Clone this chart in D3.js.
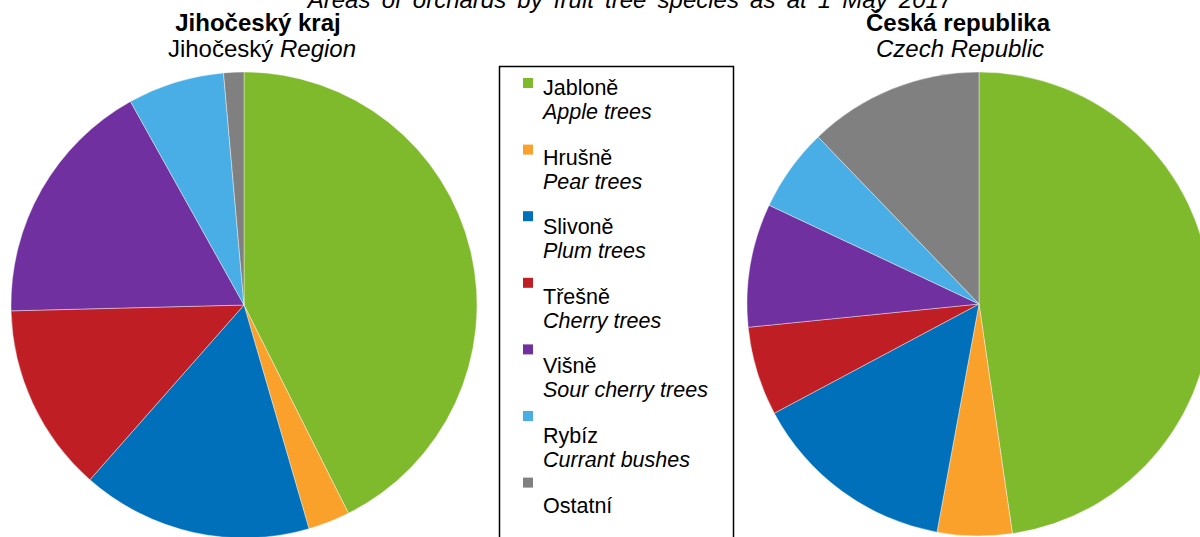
<!DOCTYPE html>
<html>
<head>
<meta charset="utf-8">
<script src="https://cdn.jsdelivr.net/npm/d3@7"></script>
<style>
  body { margin: 0; background: #fff; }
  svg { display: block; font-family: "Liberation Sans", Arial, sans-serif; }
</style>
</head>
<body>
<div id="chart"></div>
<script>
const width = 1200;
const height = 537;

// species (Czech / English) and shares in %
const species = ["Jabloně", "Hrušně", "Slivoně", "Třešně", "Višně", "Rybíz", "Ostatní"];
const speciesEn = ["Apple trees", "Pear trees", "Plum trees", "Cherry trees", "Sour cherry trees", "Currant bushes", ""];
const jihoceskyValues = [42.6, 2.9, 16.0, 13.1, 17.3, 6.7, 1.4];
const ceskaValues = [47.7, 5.2, 14.3, 6.2, 8.6, 5.8, 12.2];
const colors = ["#7fba2c", "#f9a12b", "#0070bb", "#be1e24", "#7030a0", "#4aaee6", "#808080"];

const svg = d3.select("#chart")
  .append("svg")
  .attr("width", width)
  .attr("height", height);

const color = d3.scaleOrdinal().domain(species).range(colors);

const pie = d3.pie().sort(null).value(d => d.value);

function drawPie(values, cx, cy, r) {
  const data = species.map((s, i) => ({ name: s, value: values[i] }));
  const arc = d3.arc().innerRadius(0).outerRadius(r);
  svg.append("g")
    .attr("transform", `translate(${cx},${cy})`)
    .selectAll("path")
    .data(pie(data))
    .join("path")
    .attr("d", arc)
    .attr("fill", d => color(d.data.name))
    .attr("stroke", "#fff")
    .attr("stroke-width", 0.4);
}

drawPie(jihoceskyValues, 244, 305, 233);
drawPie(ceskaValues, 979, 304, 232);

// main title (cut at the top edge, as in the original)
svg.append("text")
  .attr("x", 630)
  .attr("y", 8)
  .attr("text-anchor", "middle")
  .attr("font-size", "24px")
  .attr("font-style", "italic")
  .attr("word-spacing", "4.5px")
  .text("Areas of orchards by fruit tree species as at 1 May 2017");

// pie titles
svg.append("text")
  .attr("x", 258).attr("y", 31)
  .attr("text-anchor", "middle")
  .attr("font-size", "24px").attr("font-weight", "bold")
  .text("Jihočeský kraj");

const sub = svg.append("text")
  .attr("x", 262).attr("y", 57)
  .attr("text-anchor", "middle")
  .attr("font-size", "24px");
sub.append("tspan").text("Jihočeský ");
sub.append("tspan").attr("font-style", "italic").text("Region");

svg.append("text")
  .attr("x", 958).attr("y", 31)
  .attr("text-anchor", "middle")
  .attr("font-size", "24px").attr("font-weight", "bold")
  .text("Česká republika");

svg.append("text")
  .attr("x", 960).attr("y", 57)
  .attr("text-anchor", "middle")
  .attr("font-size", "24px").attr("font-style", "italic")
  .text("Czech Republic");

// legend box
svg.append("rect")
  .attr("x", 499.5).attr("y", 66.5)
  .attr("width", 234).attr("height", 490)
  .attr("fill", "none")
  .attr("stroke", "#000")
  .attr("stroke-width", 1.5);

const legend = svg.selectAll(".legend")
  .data(species)
  .join("g")
  .attr("class", "legend");

legend.append("rect")
  .attr("x", 523)
  .attr("y", (d, i) => 78 + i * 66.6)
  .attr("width", 10)
  .attr("height", 10)
  .attr("fill", d => color(d));

legend.append("text")
  .attr("x", 543)
  .attr("y", (d, i) => 95 + i * 69.6)
  .attr("font-size", "21.5px")
  .text(d => d);

legend.append("text")
  .attr("x", 543)
  .attr("y", (d, i) => 119 + i * 69.6)
  .attr("font-size", "21.5px")
  .attr("font-style", "italic")
  .text((d, i) => speciesEn[i]);
</script>
</body>
</html>
